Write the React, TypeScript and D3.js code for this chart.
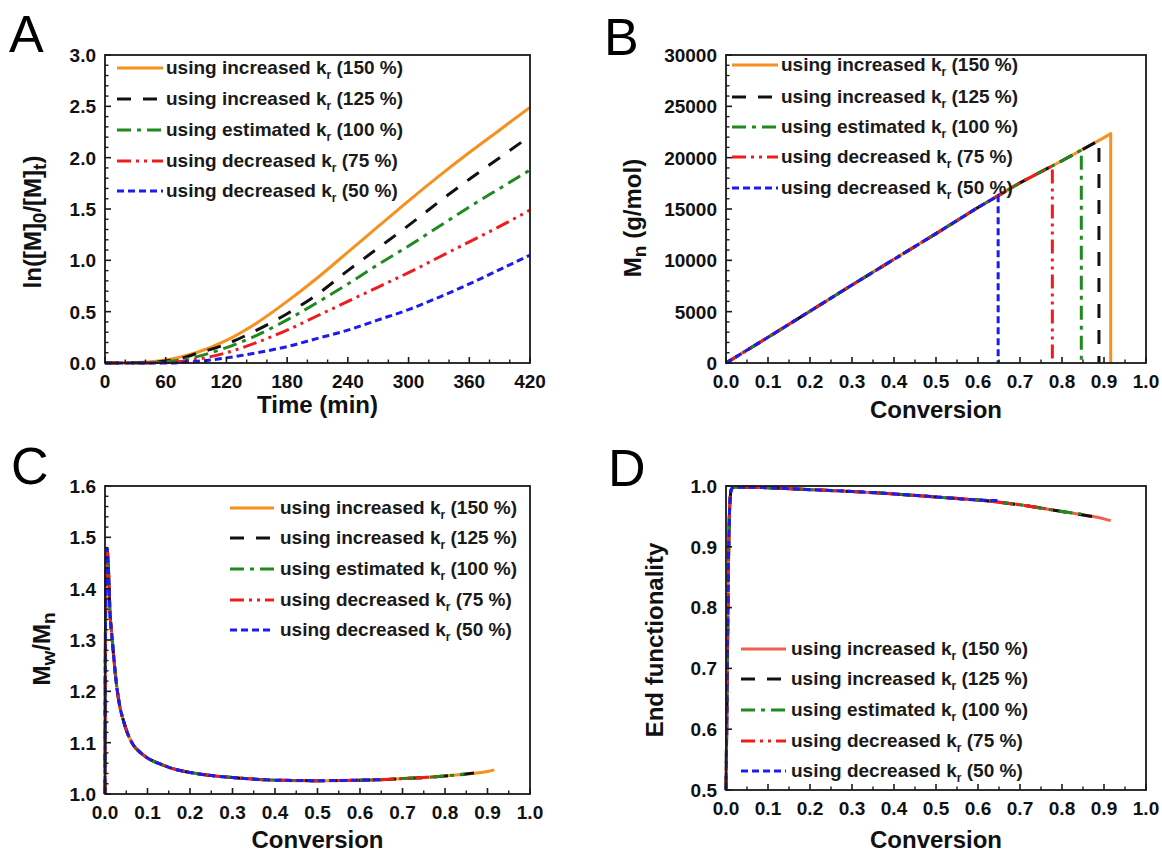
import React from "react";
import * as d3 from "d3";

const FONT = "'Liberation Sans', Arial, Helvetica, sans-serif";

// ---------- shared series info ----------
const seriesLabels = ["using increased", "using increased", "using estimated", "using decreased", "using decreased"];
const seriesPercents = ["(150 %)", "(125 %)", "(100 %)", "(75 %)", "(50 %)"];
const seriesColors = ["#f7901e", "#111111", "#1f8a1f", "#f01c1c", "#1c1cf0"];
const dSeriesColors = ["#f0604a", "#111111", "#1f8a1f", "#f01c1c", "#1c1cf0"];
const seriesDashes = ["", "14,12", "14,6,4,6", "14,5,3,5,3,5", "7,4"];
// final conversion reached by each series
const seriesEndConv = [0.916, 0.888, 0.846, 0.777, 0.648];

// ---------- panel A ----------
const aTime = [0, 30, 45, 60, 75, 90, 120, 150, 180, 210, 240, 270, 300, 330, 360, 390, 420];
const aK150 = [0, 0.005, 0.012, 0.03, 0.06, 0.1, 0.22, 0.39, 0.6, 0.83, 1.08, 1.33, 1.58, 1.82, 2.05, 2.27, 2.49];
const aK125 = [0, 0.002, 0.006, 0.02, 0.045, 0.09, 0.185, 0.32, 0.48, 0.67, 0.9, 1.12, 1.34, 1.57, 1.79, 2.0, 2.21];
const aK100 = [0, 0.001, 0.003, 0.012, 0.03, 0.06, 0.15, 0.27, 0.42, 0.59, 0.77, 0.96, 1.14, 1.33, 1.52, 1.7, 1.88];
const aK75 = [0, 0, 0.001, 0.005, 0.015, 0.035, 0.1, 0.2, 0.32, 0.46, 0.6, 0.74, 0.88, 1.03, 1.18, 1.33, 1.49];
const aK50 = [0, 0, 0, 0, 0.004, 0.015, 0.05, 0.1, 0.16, 0.24, 0.32, 0.42, 0.52, 0.64, 0.77, 0.91, 1.05];
const aXTicks = [0, 60, 120, 180, 240, 300, 360, 420];
const aXTickLabels = ["0", "60", "120", "180", "240", "300", "360", "420"];
const aYTicks = [0, 0.5, 1, 1.5, 2, 2.5, 3];
const aYTickLabels = ["0.0", "0.5", "1.0", "1.5", "2.0", "2.5", "3.0"];

// ---------- conversion axis ----------
const convTicks = [0, 0.1, 0.2, 0.3, 0.4, 0.5, 0.6, 0.7, 0.8, 0.9, 1.0];
const convTickLabels = ["0.0", "0.1", "0.2", "0.3", "0.4", "0.5", "0.6", "0.7", "0.8", "0.9", "1.0"];

// ---------- panel B ----------
const bConv = [0, 0.1, 0.2, 0.3, 0.4, 0.5, 0.6, 0.7, 0.8, 0.9];
const bMn = [0, 2500, 5050, 7600, 10100, 12600, 15150, 17550, 19700, 21950];
const bEndMn = [22340, 21680, 20740, 19200, 16300];
const bYTicks = [0, 5000, 10000, 15000, 20000, 25000, 30000];
const bYTickLabels = ["0", "5000", "10000", "15000", "20000", "25000", "30000"];

// ---------- panel C ----------
const cConv = [0, 0.001, 0.003, 0.005, 0.008, 0.012, 0.016, 0.02, 0.0275, 0.035, 0.043, 0.05, 0.067, 0.08, 0.1, 0.125, 0.15, 0.2, 0.25, 0.3, 0.35, 0.4, 0.5, 0.6, 0.65, 0.7, 0.75, 0.8, 0.85, 0.9];
const cPdi = [1.0, 1.3, 1.45, 1.478, 1.44, 1.35, 1.31, 1.272, 1.21, 1.17, 1.144, 1.125, 1.095, 1.083, 1.07, 1.06, 1.052, 1.042, 1.036, 1.032, 1.029, 1.027, 1.026, 1.027, 1.028, 1.03, 1.032, 1.035, 1.039, 1.044];
const cEndPdi = [1.047, 1.043, 1.039, 1.034, 1.028];
const cYTicks = [1.0, 1.1, 1.2, 1.3, 1.4, 1.5, 1.6];
const cYTickLabels = ["1.0", "1.1", "1.2", "1.3", "1.4", "1.5", "1.6"];

// ---------- panel D ----------
const dConv = [0, 0.002, 0.004, 0.006, 0.008, 0.01, 0.013, 0.02, 0.05, 0.1, 0.2, 0.3, 0.4, 0.5, 0.6, 0.7, 0.8, 0.9];
const dEf = [0.5, 0.62, 0.76, 0.88, 0.95, 0.98, 0.995, 0.998, 0.998, 0.997, 0.994, 0.991, 0.987, 0.982, 0.977, 0.969, 0.958, 0.946];
const dEndEf = [0.943, 0.948, 0.954, 0.961, 0.976];
const dYTicks = [0.5, 0.6, 0.7, 0.8, 0.9, 1.0];
const dYTickLabels = ["0.5", "0.6", "0.7", "0.8", "0.9", "1.0"];

type Pt = [number, number];

function zip(xs: number[], ys: number[]): Pt[] {
  return xs.map((v, i) => [v, ys[i]] as Pt);
}
function truncate(xs: number[], ys: number[], endX: number, endY: number): Pt[] {
  const pts: Pt[] = [];
  xs.forEach((v, i) => {
    if (v < endX) pts.push([v, ys[i]]);
  });
  pts.push([endX, endY]);
  return pts;
}

const aSeries: Pt[][] = [aK150, aK125, aK100, aK75, aK50].map((ys) => zip(aTime, ys));
const bSeries: Pt[][] = seriesEndConv.map((e, i) => [...truncate(bConv, bMn, e, bEndMn[i]), [e, 0] as Pt]);
const cSeries: Pt[][] = seriesEndConv.map((e, i) => truncate(cConv, cPdi, e, cEndPdi[i]));
const dSeries: Pt[][] = seriesEndConv.map((e, i) => truncate(dConv, dEf, e, dEndEf[i]));

interface PanelCfg {
  left: number;
  top: number;
  width: number;
  height: number;
  xDomain: [number, number];
  yDomain: [number, number];
  xTicks: number[];
  xTickLabels: string[];
  xMinorStep: number;
  yTicks: number[];
  yTickLabels: string[];
  yMinorStep: number;
  series: Pt[][];
  colors: string[];
  curve: d3.CurveFactory;
  legendRows: number[];
  legendLineX0: number;
  legendLineX1: number;
  legendTextX: number;
  xTitle: string;
  xTitleY: number;
  yTitle: React.ReactNode;
  yTitleX: number;
  yTitleY: number;
  letter: string;
  letterX: number;
  letterY: number;
}

function minorTicks(domain: [number, number], step: number, majors: number[]): number[] {
  if (!step) return [];
  const n = Math.round((domain[1] - domain[0]) / step);
  const out: number[] = [];
  for (let i = 0; i <= n; i++) {
    const v = domain[0] + i * step;
    if (!majors.some((m) => Math.abs(m - v) < step * 1e-3)) out.push(v);
  }
  return out;
}

const TICK_FS = 19;
const TITLE_FS = 24;
const LEG_FS = 19;

function Panel({ cfg }: { cfg: PanelCfg }) {
  const x = d3.scaleLinear().domain(cfg.xDomain).range([cfg.left, cfg.left + cfg.width]);
  const y = d3.scaleLinear().domain(cfg.yDomain).range([cfg.top + cfg.height, cfg.top]);
  const line = d3
    .line<Pt>()
    .x((d) => x(d[0]))
    .y((d) => y(d[1]))
    .curve(cfg.curve);
  const bottom = cfg.top + cfg.height;
  const xMin = minorTicks(cfg.xDomain, cfg.xMinorStep, cfg.xTicks);
  const yMin = minorTicks(cfg.yDomain, cfg.yMinorStep, cfg.yTicks);
  return (
    <g fontFamily={FONT}>
      {cfg.series.map((pts, i) => (
        <path
          key={"s" + i}
          d={line(pts) || ""}
          fill="none"
          stroke={cfg.colors[i]}
          strokeWidth={3}
          strokeDasharray={seriesDashes[i] || undefined}
          strokeLinejoin="round"
        />
      ))}
      <rect x={cfg.left} y={cfg.top} width={cfg.width} height={cfg.height} fill="none" stroke="#1a1a1a" strokeWidth={1.8} />
      {cfg.xTicks.map((t, i) => (
        <g key={"xt" + i}>
          <line x1={x(t)} x2={x(t)} y1={bottom} y2={bottom - 6} stroke="#1a1a1a" strokeWidth={1.6} />
          <text x={x(t)} y={bottom + 25} textAnchor="middle" fontSize={TICK_FS} fontWeight="bold" fill="#111">
            {cfg.xTickLabels[i]}
          </text>
        </g>
      ))}
      {xMin.map((t, i) => (
        <line key={"xm" + i} x1={x(t)} x2={x(t)} y1={bottom} y2={bottom - 3.5} stroke="#1a1a1a" strokeWidth={1.4} />
      ))}
      {cfg.yTicks.map((t, i) => (
        <g key={"yt" + i}>
          <line x1={cfg.left} x2={cfg.left + 6} y1={y(t)} y2={y(t)} stroke="#1a1a1a" strokeWidth={1.6} />
          <text x={cfg.left - 9} y={y(t)} dy="0.36em" textAnchor="end" fontSize={TICK_FS} fontWeight="bold" fill="#111">
            {cfg.yTickLabels[i]}
          </text>
        </g>
      ))}
      {yMin.map((t, i) => (
        <line key={"ym" + i} x1={cfg.left} x2={cfg.left + 3.5} y1={y(t)} y2={y(t)} stroke="#1a1a1a" strokeWidth={1.4} />
      ))}
      {cfg.legendRows.map((ry, i) => (
        <g key={"lg" + i}>
          <line
            x1={cfg.legendLineX0}
            x2={cfg.legendLineX1}
            y1={ry}
            y2={ry}
            stroke={cfg.colors[i]}
            strokeWidth={3}
            strokeDasharray={seriesDashes[i] || undefined}
          />
          <text x={cfg.legendTextX} y={ry + 6} fontSize={LEG_FS} fontWeight="bold" fill="#1a1a1a">
            {seriesLabels[i]} k
            <tspan fontSize={12} dy={5}>r</tspan>
            <tspan dy={-5}> {seriesPercents[i]}</tspan>
          </text>
        </g>
      ))}
      <text x={cfg.left + cfg.width / 2} y={cfg.xTitleY} textAnchor="middle" fontSize={TITLE_FS} fontWeight="bold" fill="#111">
        {cfg.xTitle}
      </text>
      <text
        transform={`translate(${cfg.yTitleX},${cfg.yTitleY}) rotate(-90)`}
        textAnchor="middle"
        dy="0.36em"
        fontSize={TITLE_FS}
        fontWeight="bold"
        fill="#111"
      >
        {cfg.yTitle}
      </text>
      <text x={cfg.letterX} y={cfg.letterY} fontSize={52} fill="#000">
        {cfg.letter}
      </text>
    </g>
  );
}

const SUB = { fontSize: 19, dy: 5 };

const panels: PanelCfg[] = [
  {
    left: 105, top: 55, width: 425, height: 308,
    xDomain: [0, 420], yDomain: [0, 3],
    xTicks: aXTicks, xTickLabels: aXTickLabels, xMinorStep: 20,
    yTicks: aYTicks, yTickLabels: aYTickLabels, yMinorStep: 0.1,
    series: aSeries, colors: seriesColors, curve: d3.curveMonotoneX,
    legendRows: [68, 99, 130, 161, 191], legendLineX0: 117, legendLineX1: 163, legendTextX: 166,
    xTitle: "Time (min)", xTitleY: 413,
    yTitle: (
      <>
        ln([M]<tspan fontSize={SUB.fontSize} dy={SUB.dy}>0</tspan>
        <tspan dy={-SUB.dy}>/[M]</tspan>
        <tspan fontSize={SUB.fontSize} dy={SUB.dy}>t</tspan>
        <tspan dy={-SUB.dy}>)</tspan>
      </>
    ),
    yTitleX: 32, yTitleY: 222,
    letter: "A", letterX: 9, letterY: 52,
  },
  {
    left: 726, top: 55, width: 420, height: 308,
    xDomain: [0, 1], yDomain: [0, 30000],
    xTicks: convTicks, xTickLabels: convTickLabels, xMinorStep: 0.05,
    yTicks: bYTicks, yTickLabels: bYTickLabels, yMinorStep: 1000,
    series: bSeries, colors: seriesColors, curve: d3.curveLinear,
    legendRows: [65, 97, 127, 157, 188], legendLineX0: 732, legendLineX1: 778, legendTextX: 781,
    xTitle: "Conversion", xTitleY: 418,
    yTitle: (
      <>
        M<tspan fontSize={SUB.fontSize} dy={SUB.dy}>n</tspan>
        <tspan dy={-SUB.dy}> (g/mol)</tspan>
      </>
    ),
    yTitleX: 632, yTitleY: 218,
    letter: "B", letterX: 604, letterY: 55,
  },
  {
    left: 105, top: 486, width: 425, height: 308,
    xDomain: [0, 1], yDomain: [1, 1.6],
    xTicks: convTicks, xTickLabels: convTickLabels, xMinorStep: 0.05,
    yTicks: cYTicks, yTickLabels: cYTickLabels, yMinorStep: 0.02,
    series: cSeries, colors: seriesColors, curve: d3.curveMonotoneX,
    legendRows: [508, 538, 569, 600, 630], legendLineX0: 230, legendLineX1: 274, legendTextX: 280,
    xTitle: "Conversion", xTitleY: 848,
    yTitle: (
      <>
        M<tspan fontSize={SUB.fontSize} dy={SUB.dy}>w</tspan>
        <tspan dy={-SUB.dy}>/M</tspan>
        <tspan fontSize={SUB.fontSize} dy={SUB.dy}>n</tspan>
      </>
    ),
    yTitleX: 41, yTitleY: 649,
    letter: "C", letterX: 11, letterY: 484,
  },
  {
    left: 726, top: 486, width: 420, height: 304,
    xDomain: [0, 1], yDomain: [0.5, 1.0],
    xTicks: convTicks, xTickLabels: convTickLabels, xMinorStep: 0.05,
    yTicks: dYTicks, yTickLabels: dYTickLabels, yMinorStep: 0,
    series: dSeries, colors: dSeriesColors, curve: d3.curveMonotoneX,
    legendRows: [649, 679, 710, 741, 771], legendLineX0: 741, legendLineX1: 786, legendTextX: 791,
    xTitle: "Conversion", xTitleY: 848,
    yTitle: <>End functionality</>,
    yTitleX: 654, yTitleY: 640,
    letter: "D", letterX: 608, letterY: 486,
  },
];

export default function App() {
  return (
    <svg
      width={1162}
      height={855}
      viewBox="0 0 1162 855"
      style={{ position: "absolute", left: 0, top: 0, background: "#fff" }}
    >
      <rect x={0} y={0} width={1162} height={855} fill="#fff" />
      {panels.map((p, i) => (
        <Panel key={i} cfg={p} />
      ))}
    </svg>
  );
}
